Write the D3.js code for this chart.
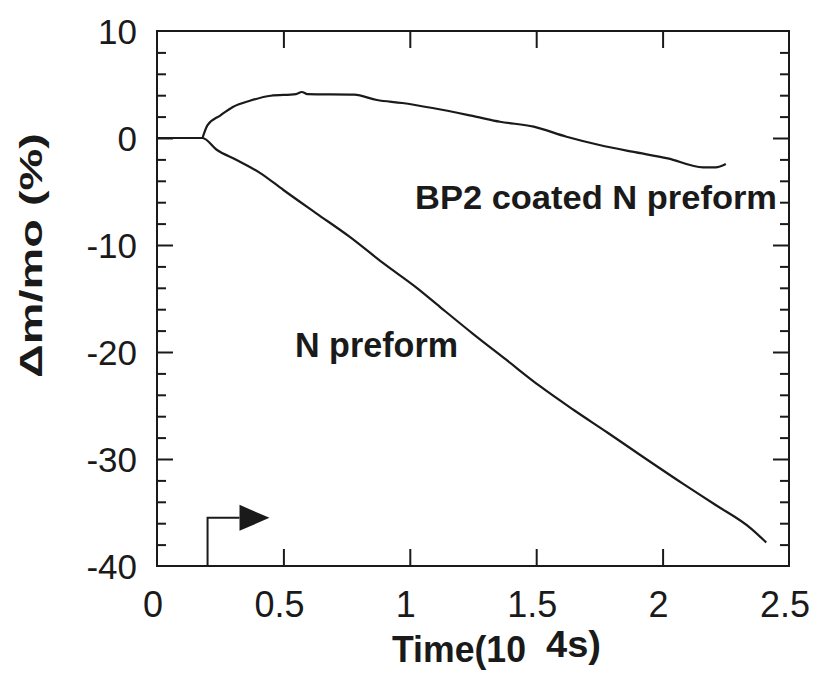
<!DOCTYPE html>
<html>
<head>
<meta charset="utf-8">
<script src="https://cdn.jsdelivr.net/npm/d3@7/dist/d3.min.js"></script>
<style>
  html, body { margin: 0; padding: 0; background: #fff; }
  svg { display: block; }
  text { font-family: "Liberation Sans", Arial, Helvetica, sans-serif; fill: #1a1a1a; }
</style>
</head>
<body>
<svg id="chart" width="819" height="673"></svg>
<script>
// ---- data ----
const nPreformTime  = [0, 0.18, 0.236, 0.315, 0.41, 0.50, 0.63, 0.76, 0.895, 1.03, 1.12, 1.25, 1.38, 1.515, 1.647, 1.78, 1.91, 2.08, 2.21, 2.35, 2.41];
const nPreformValue = [0, 0, -1.1, -2.06, -3.3, -4.86, -7.04, -9.2, -11.7, -14.05, -15.8, -18.3, -20.7, -23.2, -25.4, -27.5, -29.6, -32.3, -34.3, -36.5, -37.8];

const coatedTime  = [0.18, 0.20, 0.25, 0.30, 0.37, 0.45, 0.55, 0.573, 0.595, 0.78, 0.87, 0.97, 1.09, 1.26, 1.357, 1.49, 1.62, 1.75, 1.88, 2.02, 2.16, 2.21, 2.25];
const coatedValue = [0, 1.2, 2.1, 2.9, 3.5, 3.95, 4.1, 4.3, 4.1, 4.05, 3.55, 3.27, 2.8, 2.0, 1.52, 1.06, 0.12, -0.65, -1.28, -1.9, -2.74, -2.74, -2.43];

const xMajorTicks = [0, 0.5, 1, 1.5, 2, 2.5];
const xTickLabels = ["0", "0.5", "1", "1.5", "2", "2.5"];
const yMajorTicks = [10, 0, -10, -20, -30, -40];
const yTickLabels = ["10", "0", "-10", "-20", "-30", "-40"];
const yMinorTicks = d3.range(-38, 10, 2).filter(v => v % 10 !== 0);

const xTitle = ["Time(10", "4s)"];
const yTitle = "\u0394m/mo  (%)";
const labelCoated = "BP2 coated N preform";
const labelN = "N preform";
const arrowStart = { t: 0.2, v: -35.5 };   // start marker (arrow)
const arrowEnd = 0.445;

// ---- layout ----
const svg = d3.select("#chart");
const L = 157, R = 789, T = 31, B = 566;
const x = d3.scaleLinear().domain([0, 2.5]).range([L, R]);
const y = d3.scaleLinear().domain([-40, 10]).range([B, T]);
const ink = "#1a1a1a";

// frame
svg.append("rect").attr("x", L).attr("y", T).attr("width", R - L).attr("height", B - T)
  .attr("fill", "none").attr("stroke", ink).attr("stroke-width", 2);

// ticks via axes (inward)
const inner = xMajorTicks.filter(v => v > 0 && v < 2.5);
function styleAxis(g) {
  g.select(".domain").remove();
  g.selectAll(".tick line").attr("stroke", ink).attr("stroke-width", 2);
  g.selectAll(".tick text").remove();
}
svg.append("g").attr("transform", `translate(0,${B})`)
  .call(d3.axisBottom(x).tickValues(inner).tickSize(-17)).call(styleAxis);
svg.append("g").attr("transform", `translate(0,${T})`)
  .call(d3.axisTop(x).tickValues(inner).tickSize(-17)).call(styleAxis);
const yInnerMajor = yMajorTicks.filter(v => v > -40 && v < 10);
svg.append("g").attr("transform", `translate(${L},0)`)
  .call(d3.axisLeft(y).tickValues(yInnerMajor).tickSize(-16)).call(styleAxis);
svg.append("g").attr("transform", `translate(${L},0)`)
  .call(d3.axisLeft(y).tickValues(yMinorTicks).tickSize(-9)).call(styleAxis);
svg.append("g").attr("transform", `translate(${R},0)`)
  .call(d3.axisRight(y).tickValues(yInnerMajor).tickSize(-16)).call(styleAxis);
svg.append("g").attr("transform", `translate(${R},0)`)
  .call(d3.axisRight(y).tickValues(yMinorTicks).tickSize(-9)).call(styleAxis);

// tick labels
svg.append("g").selectAll("text").data(xMajorTicks).join("text")
  .attr("x", d => x(d) - 4).attr("y", 617)
  .attr("text-anchor", "middle").attr("font-size", 36)
  .text((d, i) => xTickLabels[i]);
svg.append("g").selectAll("text").data(yMajorTicks).join("text")
  .attr("x", 137).attr("y", d => y(d) + 13)
  .attr("text-anchor", "end").attr("font-size", 35)
  .text((d, i) => yTickLabels[i]);

// curves
const line = d3.line().x(d => x(d[0])).y(d => y(d[1])).curve(d3.curveMonotoneX);
svg.append("path").datum(nPreformTime.map((t, i) => [t, nPreformValue[i]]))
  .attr("d", line).attr("fill", "none").attr("stroke", ink).attr("stroke-width", 2.2)
  .attr("stroke-linejoin", "round");
svg.append("path").datum(coatedTime.map((t, i) => [t, coatedValue[i]]))
  .attr("d", line).attr("fill", "none").attr("stroke", ink).attr("stroke-width", 2.2)
  .attr("stroke-linejoin", "round");

// arrow marker
const ax = x(arrowStart.t), ay = y(arrowStart.v);
svg.append("path")
  .attr("d", `M${ax},${B} V${ay} H${x(arrowEnd) - 30}`)
  .attr("fill", "none").attr("stroke", ink).attr("stroke-width", 2);
const tipX = x(arrowEnd);
svg.append("path")
  .attr("d", `M${tipX - 30},${ay - 13} L${tipX},${ay} L${tipX - 30},${ay + 13} Z`)
  .attr("fill", ink);

// annotations
svg.append("text").attr("x", 415).attr("y", 209).attr("font-size", 34).attr("font-weight", "bold")
  .attr("textLength", 362).attr("lengthAdjust", "spacingAndGlyphs").text(labelCoated);
svg.append("text").attr("x", 295).attr("y", 357).attr("font-size", 35).attr("font-weight", "bold")
  .attr("textLength", 163).attr("lengthAdjust", "spacingAndGlyphs").text(labelN);

// axis titles
svg.append("text").attr("x", 392).attr("y", 662).attr("font-size", 36).attr("font-weight", "bold")
  .attr("textLength", 134).attr("lengthAdjust", "spacingAndGlyphs").text(xTitle[0]);
svg.append("text").attr("x", 546).attr("y", 657).attr("font-size", 36).attr("font-weight", "bold")
  .attr("textLength", 55).attr("lengthAdjust", "spacingAndGlyphs").text(xTitle[1]);
svg.append("text").attr("transform", "translate(42,378) rotate(-90)")
  .attr("font-size", 31).attr("font-weight", "bold")
  .attr("textLength", 245).attr("lengthAdjust", "spacingAndGlyphs").text(yTitle);
</script>
</body>
</html>
